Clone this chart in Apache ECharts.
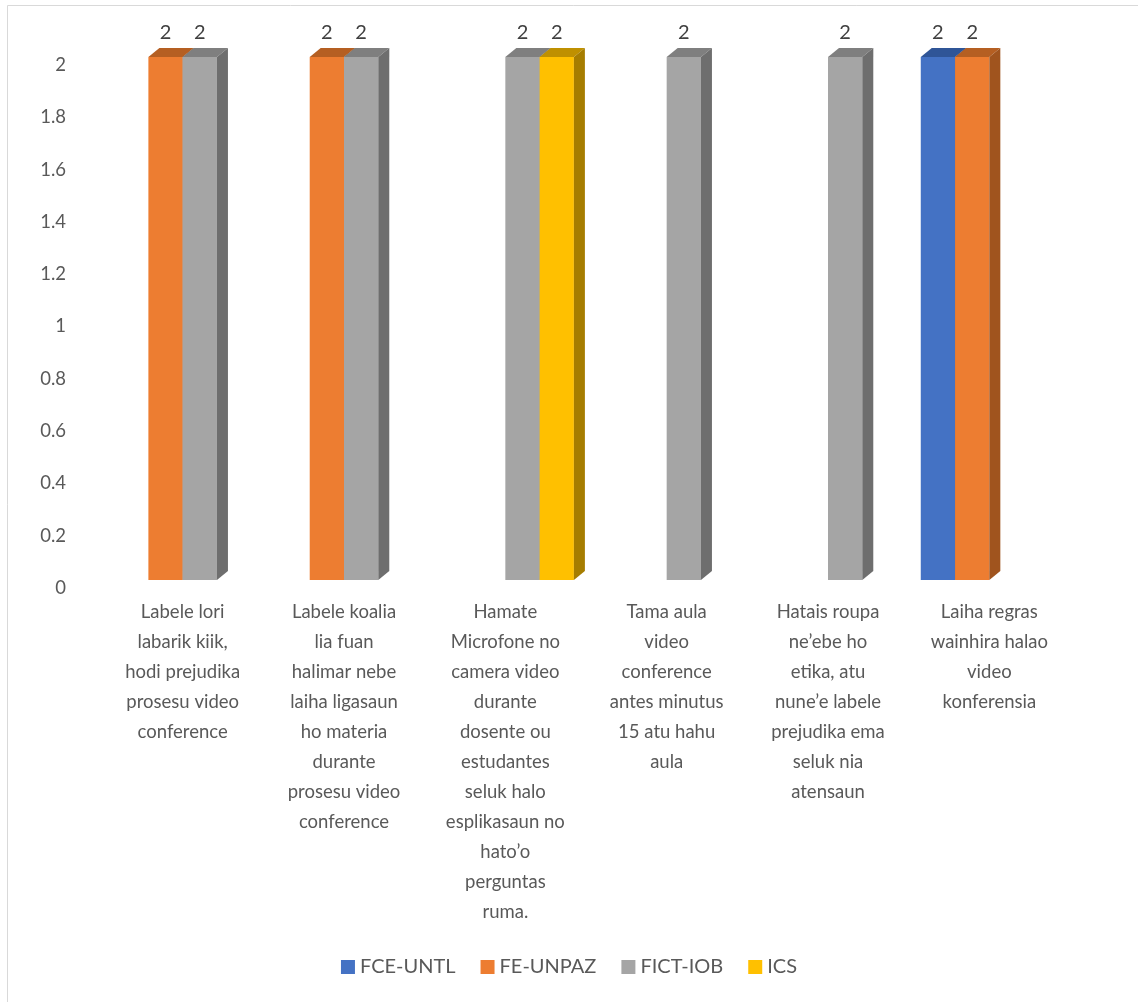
<!DOCTYPE html>
<html>
<head>
<meta charset="utf-8">
<script src="https://cdn.jsdelivr.net/npm/echarts@6/dist/echarts.min.js"></script>
<style>
html,body{margin:0;padding:0;background:#fff;}
#chart{width:1138px;height:1002px;}
</style>
</head>
<body>
<div id="chart"></div>
<script>
const categories = [
  "Labele lori\nlabarik kiik,\nhodi prejudika\nprosesu video\nconference",
  "Labele koalia\nlia fuan\nhalimar nebe\nlaiha ligasaun\nho materia\ndurante\nprosesu video\nconference",
  "Hamate\nMicrofone no\ncamera video\ndurante\ndosente ou\nestudantes\nseluk halo\nesplikasaun no\nhato’o\nperguntas\nruma.",
  "Tama aula\nvideo\nconference\nantes minutus\n15 atu hahu\naula",
  "Hatais roupa\nne’ebe ho\netika, atu\nnune’e labele\nprejudika ema\nseluk nia\natensaun",
  "Laiha regras\nwainhira halao\nvideo\nkonferensia"
];
const seriesNames = ["FCE-UNTL", "FE-UNPAZ", "FICT-IOB", "ICS"];
const fceUntl = [null, null, null, null, null, 2];
const feUnpaz = [2, 2, null, null, null, 2];
const fictIob = [2, 2, 2, 2, 2, null];
const ics     = [null, null, 2, null, null, null];
const yTicks = { min: 0, max: 2, interval: 0.2 };

const colors = ["#4472C4", "#ED7D31", "#A5A5A5", "#FFC000"];
const topColors = ["#2F5597", "#B55F22", "#7F7F7F", "#BF9000"];
const sideColors = ["#2A4C86", "#A0541E", "#6E6E6E", "#A67D00"];
const allValues = [fceUntl, feUnpaz, fictIob, ics];
const FONT = "Lato, 'Noto Sans', sans-serif";

function renderBar(params, api) {
  const cat = api.value(0), val = api.value(1);
  const base = api.coord([cat, 0]);
  const topP = api.coord([cat, val]);
  const catW = api.size([1, 0])[0];
  const bw = catW * 0.2125;
  const idx = params.seriesIndex;
  const x0 = base[0] + (idx - 2) * bw;
  const shift = 8, dx = 11, dd = 9;
  const yT = topP[1] - shift, yB = base[1] - shift;
  return {
    type: 'group',
    children: [
      { type: 'rect', shape: { x: x0, y: yT, width: bw, height: yB - yT }, style: { fill: colors[idx] } },
      { type: 'polygon', shape: { points: [[x0, yT], [x0 + bw, yT], [x0 + bw + dx, yT - dd], [x0 + dx, yT - dd]] }, style: { fill: topColors[idx] } },
      { type: 'polygon', shape: { points: [[x0 + bw, yT], [x0 + bw + dx, yT - dd], [x0 + bw + dx, yB - dd], [x0 + bw, yB]] }, style: { fill: sideColors[idx] } },
      { type: 'text', style: { text: String(val), x: x0 + bw / 2, y: yT - 24, align: 'center', verticalAlign: 'middle', fill: '#404040', font: "20px " + FONT } }
    ]
  };
}

const chart = echarts.init(document.getElementById('chart'), null, { renderer: 'canvas' });
chart.setOption({
  backgroundColor: '#ffffff',
  animation: false,
  graphic: [{
    type: 'rect', shape: { x: 7.5, y: 5.5, width: 1140, height: 1000 },
    style: { fill: 'none', stroke: '#D9D9D9', lineWidth: 1 }, silent: true
  }],
  grid: { left: 102, right: 68, top: 65, bottom: 414 },
  legend: {
    bottom: 20,
    left: 'center',
    icon: 'rect',
    itemWidth: 14,
    itemHeight: 14,
    itemGap: 25,
    textStyle: { fontSize: 20, color: '#595959', fontFamily: FONT },
    data: seriesNames
  },
  xAxis: {
    type: 'category',
    data: categories,
    axisLine: { show: false },
    axisTick: { show: false },
    splitLine: { show: false },
    axisLabel: { interval: 0, margin: 9, fontSize: 18.5, lineHeight: 30, color: '#595959', fontFamily: FONT, align: 'center' }
  },
  yAxis: {
    type: 'value',
    min: yTicks.min, max: yTicks.max, interval: yTicks.interval,
    axisLine: { show: false },
    axisTick: { show: false },
    splitLine: { show: false },
    axisLabel: { margin: 36, fontSize: 18.5, color: '#595959', fontFamily: FONT }
  },
  series: seriesNames.map((name, i) => ({
    name: name,
    type: 'custom',
    renderItem: renderBar,
    itemStyle: { color: colors[i] },
    encode: { x: 0, y: 1 },
    data: allValues[i].map((v, c) => [c, v]).filter(d => d[1] !== null)
  }))
});
</script>
</body>
</html>
